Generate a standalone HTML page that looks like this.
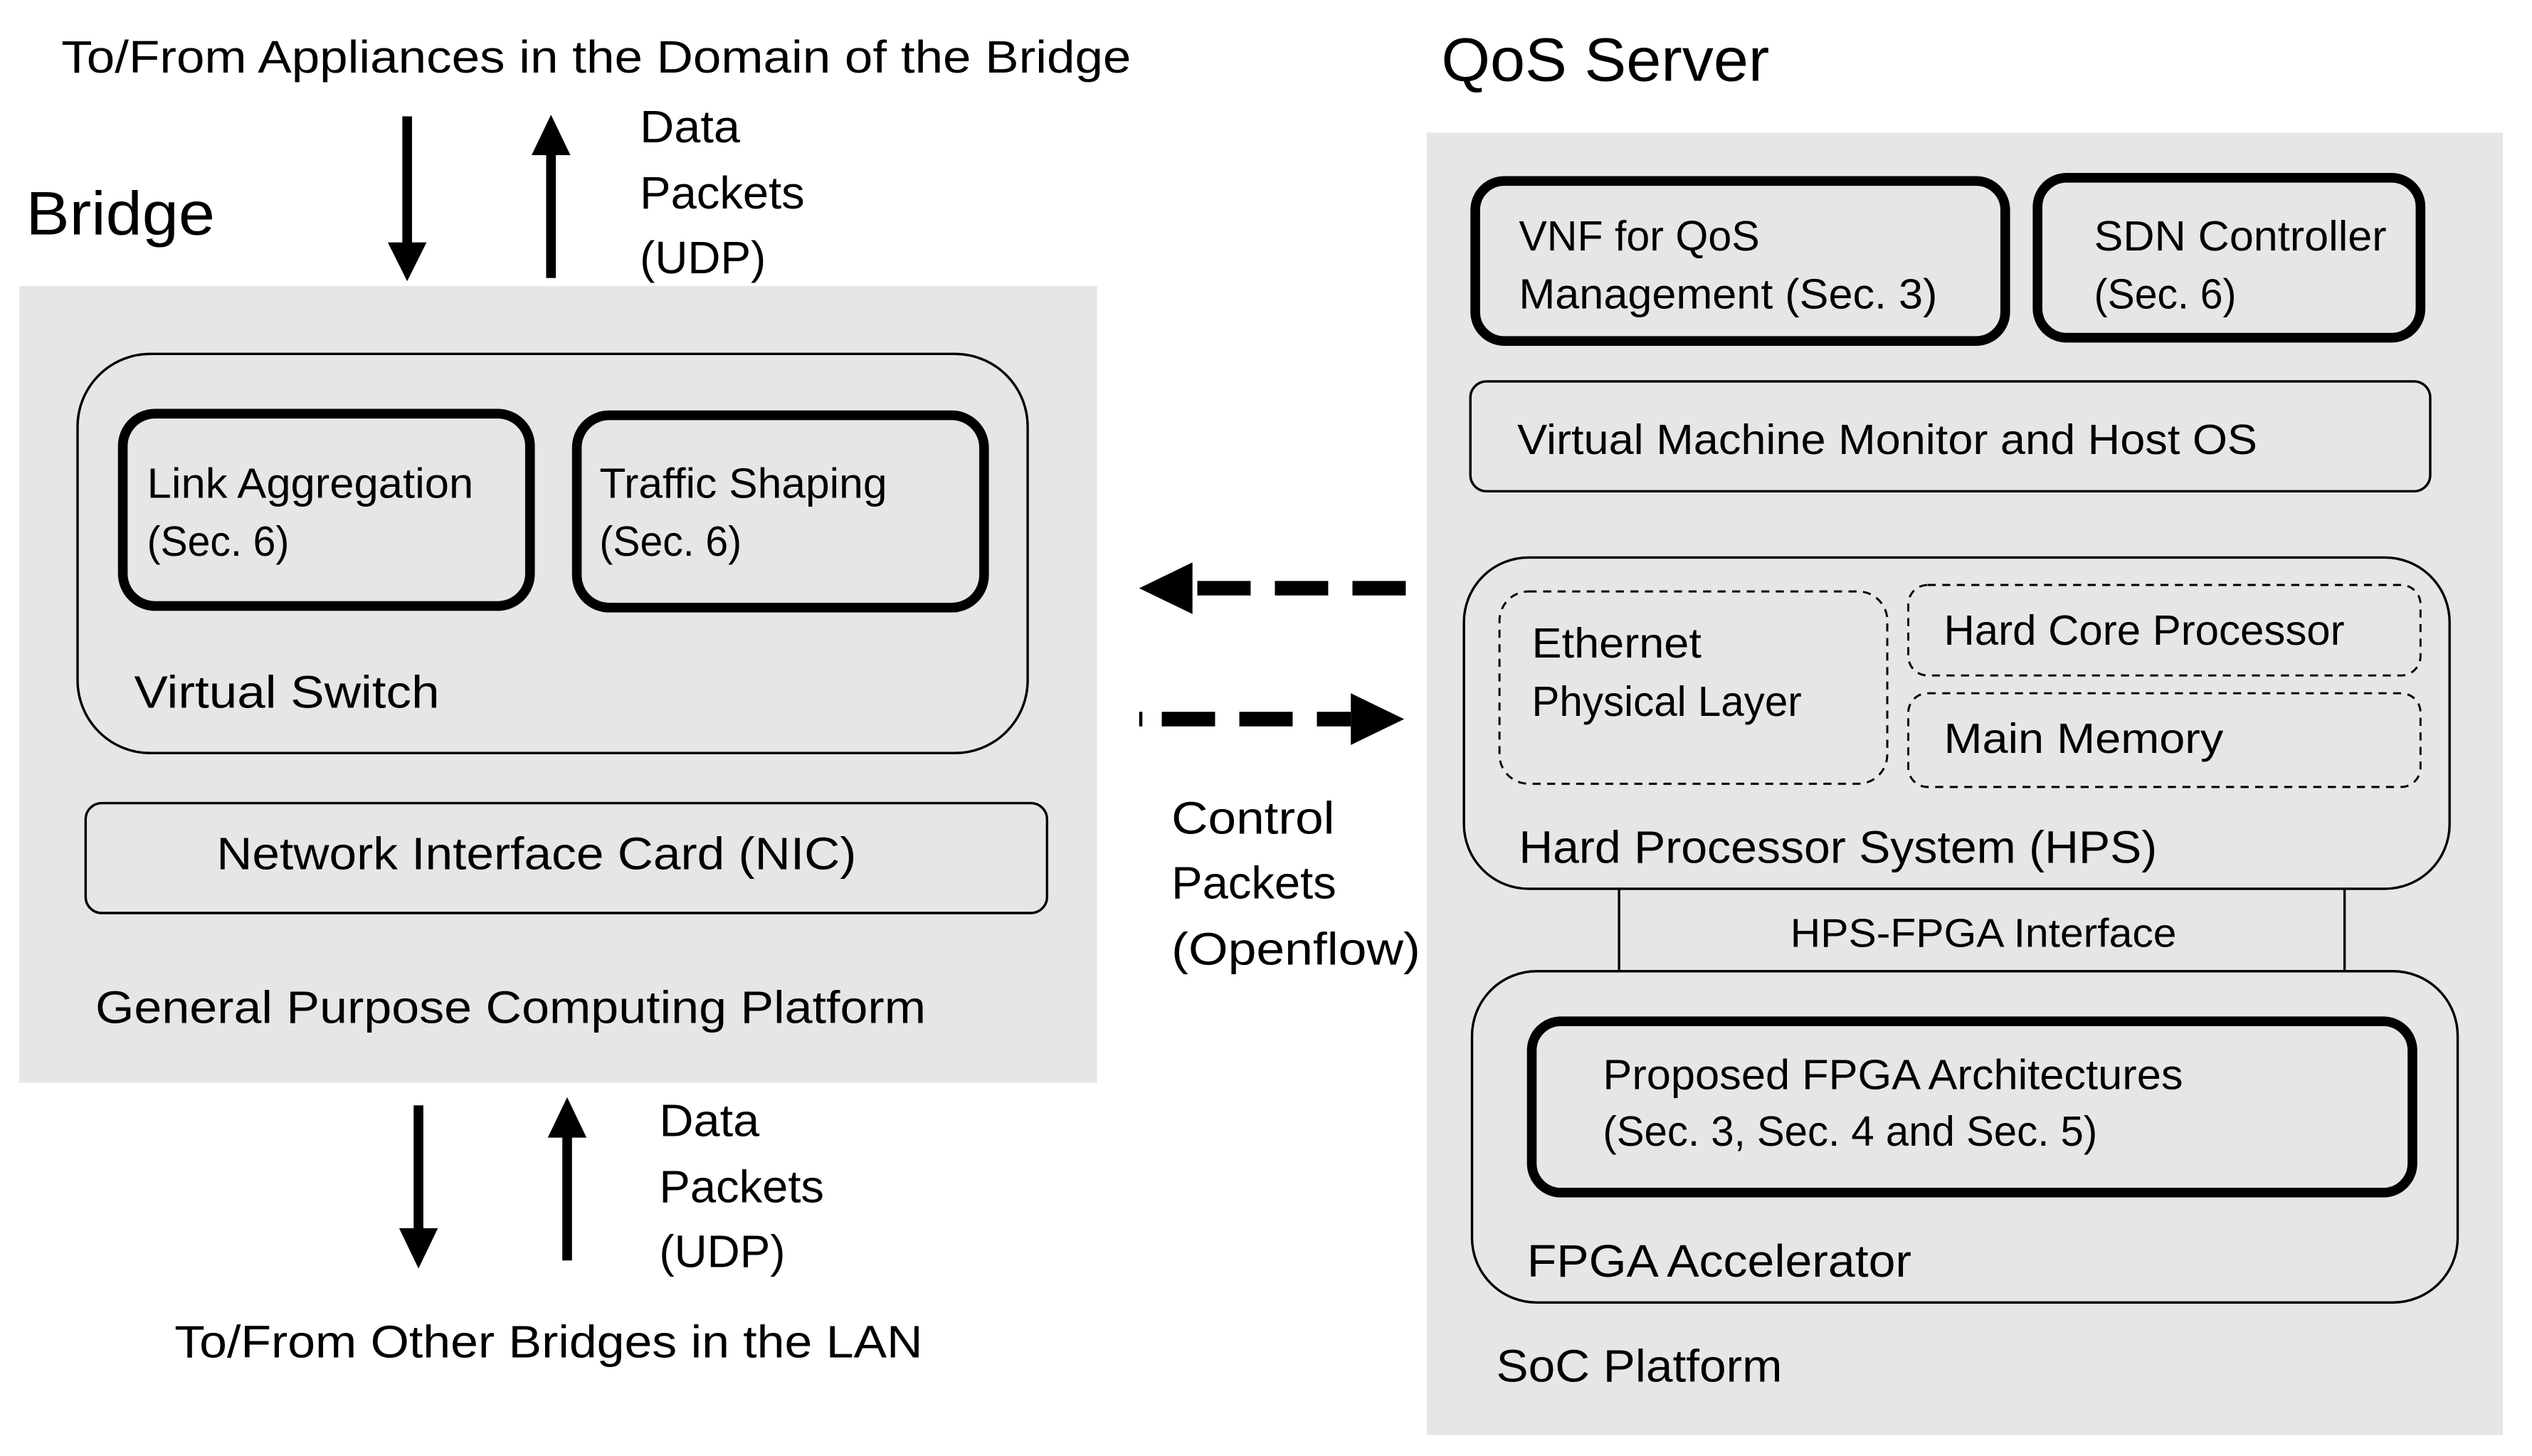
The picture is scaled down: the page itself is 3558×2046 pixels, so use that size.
<!DOCTYPE html>
<html><head><meta charset="utf-8"><style>
html,body{margin:0;padding:0;background:#fff;}
svg{display:block;}
text{font-family:"Liberation Sans",sans-serif;fill:#000;}
</style></head><body>
<svg width="3558" height="2046" viewBox="0 0 1567 901" preserveAspectRatio="none" xmlns="http://www.w3.org/2000/svg">
<rect width="1567" height="901" fill="#fff"/>
<text x="38" y="45" font-size="28" textLength="662" lengthAdjust="spacingAndGlyphs">To/From Appliances in the Domain of the Bridge</text>
<text x="16" y="145" font-size="38" textLength="117" lengthAdjust="spacingAndGlyphs">Bridge</text>
<line x1="252" y1="72" x2="252" y2="152" stroke="#000" stroke-width="6"/>
<polygon points="240,150 264,150 252,174" fill="#000"/>
<line x1="341" y1="172" x2="341" y2="94" stroke="#000" stroke-width="6"/>
<polygon points="329,96 353,96 341,71" fill="#000"/>
<text x="396" y="88" font-size="28" textLength="62" lengthAdjust="spacingAndGlyphs">Data</text>
<text x="396" y="129" font-size="28" textLength="102" lengthAdjust="spacingAndGlyphs">Packets</text>
<text x="396" y="169" font-size="28" textLength="78" lengthAdjust="spacingAndGlyphs">(UDP)</text>
<rect x="12" y="177" width="667" height="493" fill="#e6e6e6"/>
<rect x="48" y="219" width="588" height="247" rx="45" fill="none" stroke="#000" stroke-width="1.5"/>
<rect x="76" y="256" width="252" height="119" rx="20" fill="none" stroke="#000" stroke-width="6"/>
<text x="91" y="308" font-size="26" textLength="202" lengthAdjust="spacingAndGlyphs">Link Aggregation</text>
<text x="91" y="344" font-size="26" textLength="88" lengthAdjust="spacingAndGlyphs">(Sec. 6)</text>
<rect x="357" y="257" width="252" height="119" rx="20" fill="none" stroke="#000" stroke-width="6"/>
<text x="371" y="308" font-size="26" textLength="178" lengthAdjust="spacingAndGlyphs">Traffic Shaping</text>
<text x="371" y="344" font-size="26" textLength="88" lengthAdjust="spacingAndGlyphs">(Sec. 6)</text>
<text x="83" y="438" font-size="28" textLength="189" lengthAdjust="spacingAndGlyphs">Virtual Switch</text>
<rect x="53" y="497" width="595" height="68" rx="10" fill="none" stroke="#000" stroke-width="1.5"/>
<text x="134" y="538" font-size="28" textLength="396" lengthAdjust="spacingAndGlyphs">Network Interface Card (NIC)</text>
<text x="59" y="633" font-size="28" textLength="514" lengthAdjust="spacingAndGlyphs">General Purpose Computing Platform</text>
<line x1="259" y1="684" x2="259" y2="762" stroke="#000" stroke-width="6"/>
<polygon points="247,760 271,760 259,785" fill="#000"/>
<line x1="351" y1="780" x2="351" y2="702" stroke="#000" stroke-width="6"/>
<polygon points="339,704 363,704 351,679" fill="#000"/>
<text x="408" y="703" font-size="28" textLength="62" lengthAdjust="spacingAndGlyphs">Data</text>
<text x="408" y="744" font-size="28" textLength="102" lengthAdjust="spacingAndGlyphs">Packets</text>
<text x="408" y="784" font-size="28" textLength="78" lengthAdjust="spacingAndGlyphs">(UDP)</text>
<text x="108" y="840" font-size="28" textLength="463" lengthAdjust="spacingAndGlyphs">To/From Other Bridges in the LAN</text>
<line x1="870" y1="364" x2="738" y2="364" stroke="#000" stroke-width="9" stroke-dasharray="33,15"/>
<polygon points="738,348 738,380 705,364" fill="#000"/>
<line x1="705" y1="445" x2="836" y2="445" stroke="#000" stroke-width="9" stroke-dasharray="2,12,33,15,33,15,33,15"/>
<polygon points="836,429 836,461 869,445" fill="#000"/>
<text x="725" y="516" font-size="28" textLength="101" lengthAdjust="spacingAndGlyphs">Control</text>
<text x="725" y="556" font-size="28" textLength="102" lengthAdjust="spacingAndGlyphs">Packets</text>
<text x="725" y="597" font-size="28" textLength="154" lengthAdjust="spacingAndGlyphs">(Openflow)</text>
<text x="892" y="50" font-size="38" textLength="203" lengthAdjust="spacingAndGlyphs">QoS Server</text>
<rect x="883" y="82" width="666" height="806" fill="#e6e6e6"/>
<rect x="913" y="112" width="328" height="99" rx="18" fill="none" stroke="#000" stroke-width="6"/>
<text x="940" y="155" font-size="26" textLength="149" lengthAdjust="spacingAndGlyphs">VNF for QoS</text>
<text x="940" y="191" font-size="26" textLength="259" lengthAdjust="spacingAndGlyphs">Management (Sec. 3)</text>
<rect x="1261" y="110" width="237" height="99" rx="18" fill="none" stroke="#000" stroke-width="6"/>
<text x="1296" y="155" font-size="26" textLength="181" lengthAdjust="spacingAndGlyphs">SDN Controller</text>
<text x="1296" y="191" font-size="26" textLength="88" lengthAdjust="spacingAndGlyphs">(Sec. 6)</text>
<rect x="910" y="236" width="594" height="68" rx="10" fill="none" stroke="#000" stroke-width="1.5"/>
<text x="939" y="281" font-size="26" textLength="458" lengthAdjust="spacingAndGlyphs">Virtual Machine Monitor and Host OS</text>
<rect x="906" y="345" width="610" height="205" rx="40" fill="none" stroke="#000" stroke-width="1.5"/>
<rect x="928" y="366" width="240" height="119" rx="18" fill="none" stroke="#000" stroke-width="1.3" stroke-dasharray="5,4"/>
<text x="948" y="407" font-size="26" textLength="105" lengthAdjust="spacingAndGlyphs">Ethernet</text>
<text x="948" y="443" font-size="26" textLength="167" lengthAdjust="spacingAndGlyphs">Physical Layer</text>
<rect x="1181" y="362" width="317" height="56" rx="12" fill="none" stroke="#000" stroke-width="1.3" stroke-dasharray="5,4"/>
<text x="1203" y="399" font-size="26" textLength="248" lengthAdjust="spacingAndGlyphs">Hard Core Processor</text>
<rect x="1181" y="429" width="317" height="58" rx="12" fill="none" stroke="#000" stroke-width="1.3" stroke-dasharray="5,4"/>
<text x="1203" y="466" font-size="26" textLength="173" lengthAdjust="spacingAndGlyphs">Main Memory</text>
<text x="940" y="534" font-size="28" textLength="395" lengthAdjust="spacingAndGlyphs">Hard Processor System (HPS)</text>
<line x1="1002" y1="550" x2="1002" y2="601" stroke="#000" stroke-width="1.5"/>
<line x1="1451" y1="550" x2="1451" y2="601" stroke="#000" stroke-width="1.5"/>
<text x="1108" y="586" font-size="25" textLength="239" lengthAdjust="spacingAndGlyphs">HPS-FPGA Interface</text>
<rect x="911" y="601" width="610" height="205" rx="40" fill="none" stroke="#000" stroke-width="1.5"/>
<rect x="948" y="632" width="545" height="106" rx="18" fill="none" stroke="#000" stroke-width="6"/>
<text x="992" y="674" font-size="26" textLength="359" lengthAdjust="spacingAndGlyphs">Proposed FPGA Architectures</text>
<text x="992" y="709" font-size="26" textLength="306" lengthAdjust="spacingAndGlyphs">(Sec. 3, Sec. 4 and Sec. 5)</text>
<text x="945" y="790" font-size="28" textLength="238" lengthAdjust="spacingAndGlyphs">FPGA Accelerator</text>
<text x="926" y="855" font-size="28" textLength="177" lengthAdjust="spacingAndGlyphs">SoC Platform</text>
</svg>
</body></html>
